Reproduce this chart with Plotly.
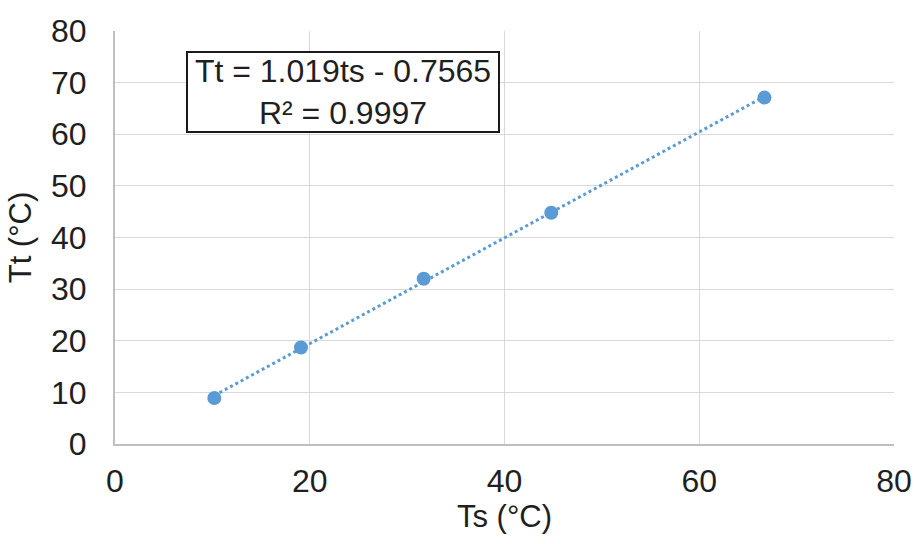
import numpy as np
import plotly.graph_objects as go

ts = [10.2, 19.1, 31.7, 44.8, 66.7]
tt = [8.9, 18.7, 32.0, 44.8, 67.1]
x_ticks = [0, 20, 40, 60, 80]
y_ticks = [0, 10, 20, 30, 40, 50, 60, 70, 80]
eq_text = "Tt = 1.019ts - 0.7565<br>R² = 0.9997"

blue = "#5B9BD5"
txt = "#1f1f1f"
font_family = "Liberation Sans, Arial, sans-serif"

coef = np.polyfit(ts, tt, 1)
fit_x = np.array([min(ts), max(ts)])
fit_y = np.polyval(coef, fit_x)

fig = go.Figure()
fig.add_trace(go.Scatter(x=fit_x, y=fit_y, mode="lines",
                         line=dict(color=blue, width=3, dash="dot"),
                         showlegend=False, hoverinfo="skip"))
fig.add_trace(go.Scatter(x=ts, y=tt, mode="markers",
                         marker=dict(color=blue, size=14),
                         showlegend=False))

fig.add_annotation(x=0.293, y=0.852, xref="paper", yref="paper",
                   xanchor="center", yanchor="middle",
                   text=eq_text, showarrow=False,
                   font=dict(family=font_family, size=32, color=txt),
                   bordercolor="#1a1a1a", borderwidth=2, borderpad=0,
                   bgcolor="white", width=310, align="center")

fig.update_layout(
    width=915, height=544,
    margin=dict(l=115, r=21, t=31, b=100, autoexpand=False),
    plot_bgcolor="white", paper_bgcolor="white",
    font=dict(family=font_family, size=32, color=txt),
)
fig.update_xaxes(range=[0, 80], tickvals=x_ticks, showgrid=True,
                 gridcolor="#d9d9d9", gridwidth=1,
                 showline=True, linecolor="#bfbfbf", linewidth=2,
                 zeroline=False, ticks="", ticklabelstandoff=8,
                 automargin=False,
                 title=dict(text="Ts (°C)", standoff=4,
                            font=dict(size=31, color=txt)),
                 mirror=False)
fig.update_yaxes(range=[0, 80], tickvals=y_ticks, showgrid=True,
                 gridcolor="#d9d9d9", gridwidth=1,
                 showline=True, linecolor="#bfbfbf", linewidth=2,
                 zeroline=False, ticks="", ticklabelstandoff=20,
                 automargin=False,
                 title=dict(text="Tt (°C)", standoff=10,
                            font=dict(size=31, color=txt)))

fig.write_html("out.html")
